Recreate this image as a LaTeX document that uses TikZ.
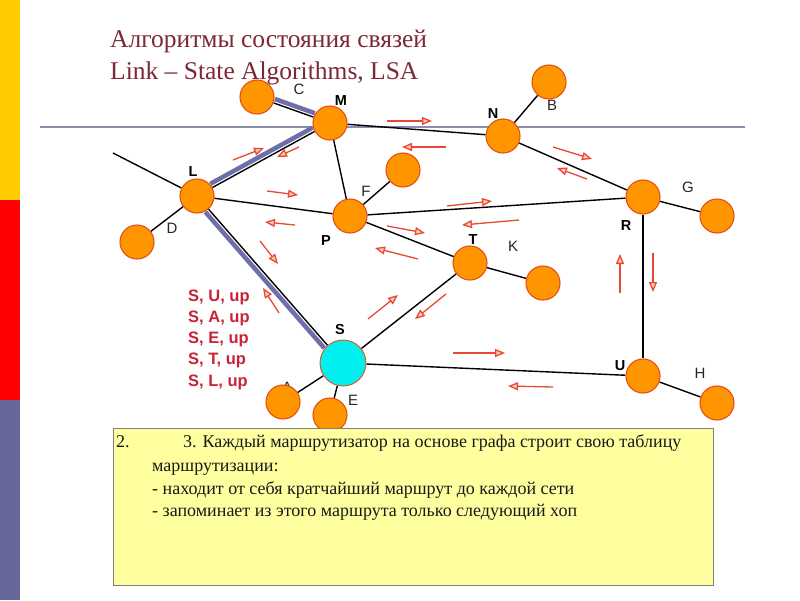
\documentclass[tikz,border=0pt]{standalone}
\usepackage{fontspec}
\setmainfont{Liberation Serif}
\setsansfont{Liberation Sans}
\usetikzlibrary{arrows.meta,backgrounds}
\definecolor{barY}{RGB}{255,204,0}
\definecolor{barR}{RGB}{255,0,0}
\definecolor{barB}{RGB}{102,102,153}
\definecolor{titleC}{RGB}{125,40,55}
\definecolor{rule}{RGB}{140,140,175}
\definecolor{nodeFill}{RGB}{255,150,0}
\definecolor{nodeEdge}{RGB}{228,80,20}
\definecolor{cyanFill}{RGB}{0,240,240}
\definecolor{bandBlue}{RGB}{110,110,170}
\definecolor{msgRed}{RGB}{232,72,52}
\definecolor{msgFill}{RGB}{255,205,175}
\definecolor{lsaRed}{RGB}{200,35,55}
\definecolor{boxFill}{RGB}{255,255,160}
\definecolor{boxEdge}{RGB}{128,128,128}
\begin{document}
\begin{tikzpicture}[x=1pt,y=-1pt,
  rt/.style={circle,draw=nodeEdge,line width=1.1pt,fill=nodeFill,minimum size=34pt,inner sep=0pt},
  link/.style={line width=1.4pt,black},
  band/.style={line width=4.5pt,bandBlue},
  msg/.style={draw=msgRed,line width=1.3pt,-{Triangle[length=10pt,width=8pt,fill=msgFill]}},
  lab/.style={font=\sffamily\fontsize{15}{15}\selectfont,text=black!85,inner sep=0pt},
  blab/.style={font=\sffamily\bfseries\fontsize{14.5}{14.5}\selectfont,text=black,inner sep=0pt},
  lsa/.style={font=\sffamily\bfseries\fontsize{16.5}{16.5}\selectfont,text=lsaRed,anchor=base west,inner sep=0pt},
  boxtxt/.style={font=\fontsize{18}{18}\selectfont,text=black!90,anchor=base west,inner sep=0pt},
]
\useasboundingbox (0,0) rectangle (800,600);
% title
\node[font=\fontsize{25.5}{25.5}\selectfont,text=titleC,anchor=base west,inner sep=0pt] (t1) at (110,47) {Алгоритмы состояния связей};
\node[font=\fontsize{25.5}{25.5}\selectfont,text=titleC,anchor=base west,inner sep=0pt] (t2) at (110,79) {Link – State Algorithms, LSA};
% labels
\node[lab] (lC) at (299,89) {C};
\node[blab] (lM) at (341,101) {M};
\node[blab] (lN) at (493,114) {N};
\node[lab] (lB) at (552,105) {B};
\node[blab] (lL) at (193,172) {L};
\node[lab] (lD) at (172,228) {D};
\node[lab] (lF) at (366,191) {F};
\node[blab] (lP) at (326,241) {P};
\node[blab] (lR) at (626,226) {R};
\node[lab] (lG) at (688,187) {G};
\node[blab] (lT) at (473,240) {T};
\node[lab] (lK) at (513,246) {K};
\node[blab] (lS) at (340,330) {S};
\node[blab] (lU) at (620,366) {U};
\node[lab] (lH) at (700,373) {H};
\node[lab] (lA) at (287,387) {A};
\node[lab] (lE) at (353,400) {E};
% nodes
\node[rt] (C) at (257,97) {};
\node[rt] (M) at (330,123) {};
\node[rt] (N) at (503,136) {};
\node[rt] (B) at (549,82) {};
\node[rt] (L) at (197,196) {};
\node[rt] (D) at (137,242) {};
\node[rt] (F) at (403,170) {};
\node[rt] (P) at (350,216) {};
\node[rt] (R) at (643,197) {};
\node[rt] (G) at (717,216) {};
\node[rt] (T) at (470,263) {};
\node[rt] (K) at (543,283) {};
\node[rt,fill=cyanFill,line width=0.9pt,minimum size=46pt] (S) at (343,363) {};
\node[rt] (U) at (643,376) {};
\node[rt] (H) at (717,403) {};
\node[rt] (A) at (283,402) {};
\node[rt] (E) at (330,415) {};
\coordinate (free) at (113,153);
\coordinate (r1) at (40,127);
\coordinate (r2) at (745,127);
% background: bars, rule, links
\begin{pgfonlayer}{background}
\fill[white] (0,0) rectangle (800,600);
\fill[barY] (0,0) rectangle (20,200);
\fill[barR] (0,200) rectangle (20,400);
\fill[barB] (0,400) rectangle (20,600);
\draw[rule,line width=1.5pt] (r1) -- (r2);
\draw[band,transform canvas={shift={(1.4,-3.9)}}] (C) -- (M);
\draw[band,transform canvas={shift={(-2.1,-3.7)}}] (L) -- (M);
\draw[band,transform canvas={shift={(-3.2,2.8)}}] (L) -- (S);
\draw[link] (free) -- (L);
\draw[link] (C) -- (M);
\draw[link] (L) -- (M);
\draw[link] (L) -- (S);
\draw[link] (D) -- (L);
\draw[link] (M) -- (N);
\draw[link] (N) -- (B);
\draw[link] (N) -- (R);
\draw[link] (R) -- (G);
\draw[link] (R) -- (U);
\draw[link] (U) -- (H);
\draw[link] (M) -- (P);
\draw[link] (L) -- (P);
\draw[link] (P) -- (F);
\draw[link] (P) -- (R);
\draw[link] (P) -- (T);
\draw[link] (T) -- (K);
\draw[link] (T) -- (S);
\draw[link] (S) -- (U);
\draw[link] (S) -- (A);
\draw[link] (S) -- (E);
\end{pgfonlayer}
% messages
\draw[msg] (387,121) -- (432,121);
\draw[msg] (446,147) -- (402,147);
\draw[msg] (553,147) -- (592,159);
\draw[msg] (587,179) -- (557,168);
\draw[msg] (447,206) -- (492,201);
\draw[msg] (519,220) -- (462,225);
\draw[msg] (387,226) -- (425,233);
\draw[msg] (418,259) -- (375,248);
\draw[msg] (233,160) -- (264,148);
\draw[msg] (299,147) -- (277,157);
\draw[msg] (267,191) -- (298,195);
\draw[msg] (295,225) -- (265,222);
\draw[msg] (260,241) -- (278,264);
\draw[msg] (279,313) -- (263,288);
\draw[msg] (368,319) -- (398,295);
\draw[msg] (446,294) -- (415,319);
\draw[msg] (453,353) -- (505,353);
\draw[msg] (553,387) -- (508,386);
\draw[msg] (620,293) -- (620,254);
\draw[msg] (653,253) -- (653,292);
% LSA list
\node[lsa] (s1) at (188,301) {S, U, up};
\node[lsa] (s2) at (188,322) {S, A, up};
\node[lsa] (s3) at (188,343) {S, E, up};
\node[lsa] (s4) at (188,364) {S, T, up};
\node[lsa] (s5) at (188,386) {S, L, up};
% box
\node[draw=boxEdge,line width=1.3pt,fill=boxFill,anchor=north west,minimum width=600pt,minimum height=157pt,inner sep=0pt] (box) at (113,428) {};
\node[boxtxt] (b0) at (116,447) {2.};
\node[boxtxt] (b1) at (183,447) {3. Каждый маршрутизатор на основе графа строит свою таблицу};
\node[boxtxt] (b2) at (152,471) {маршрутизации:};
\node[boxtxt] (b3) at (152,494) {- находит от себя кратчайший маршрут до каждой сети};
\node[boxtxt] (b4) at (152,516) {- запоминает из этого маршрута только следующий хоп};
\end{tikzpicture}
\end{document}
